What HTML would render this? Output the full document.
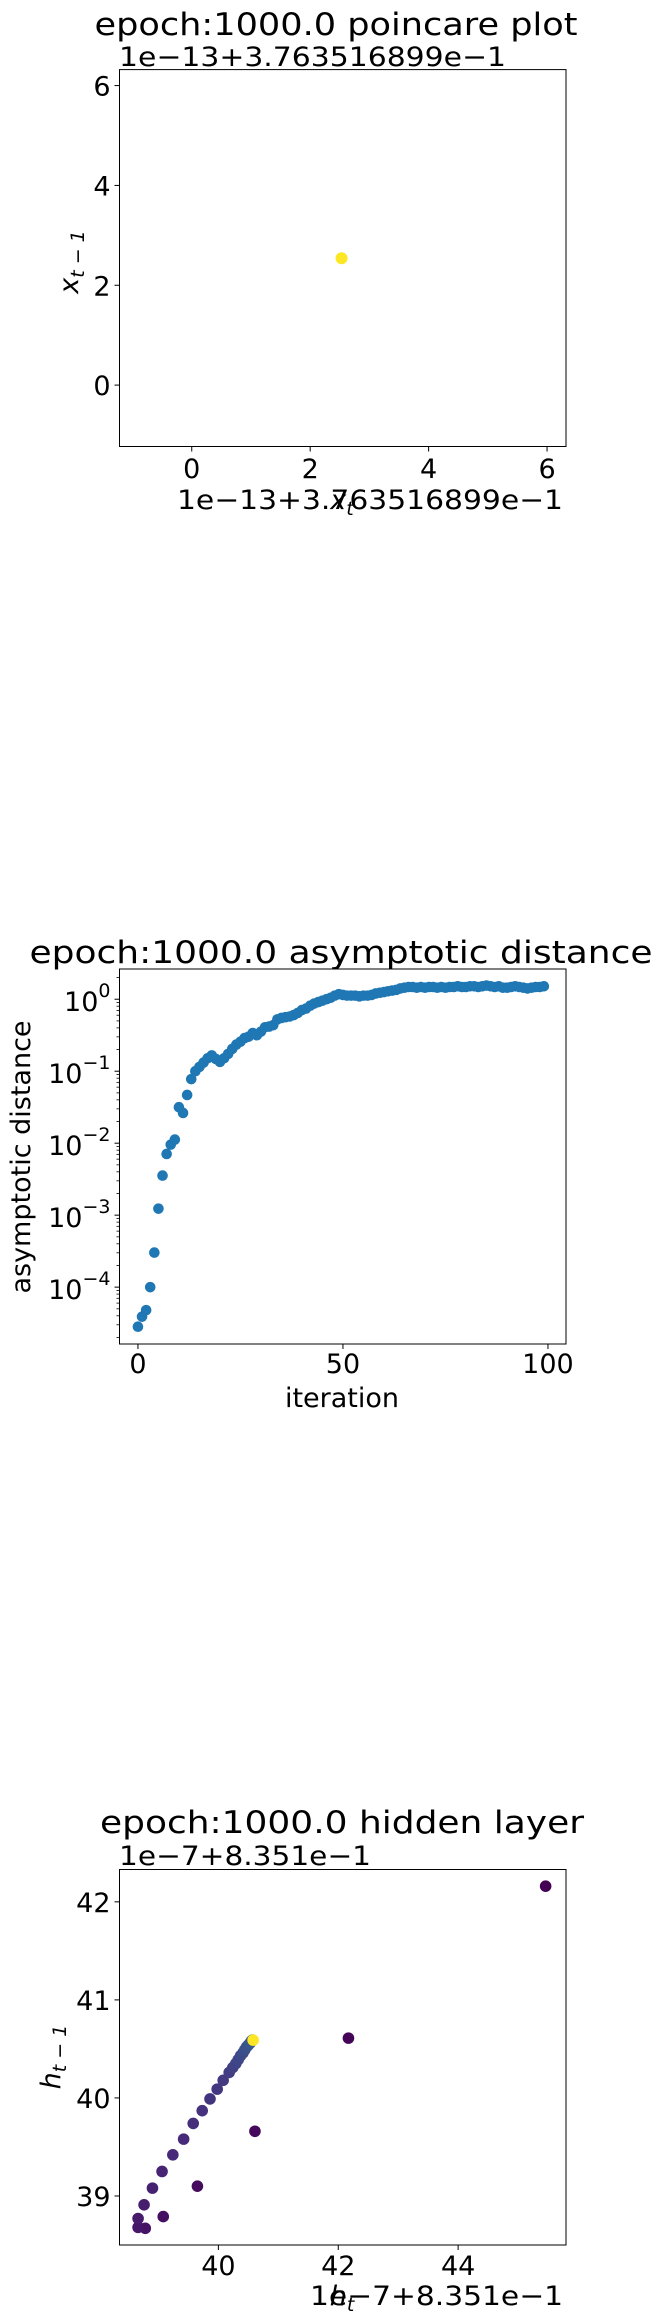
<!DOCTYPE html>
<html><head><meta charset="utf-8"><style>
html,body{margin:0;padding:0;background:#fff}
svg{display:block;font-family:"DejaVu Sans","Liberation Sans",sans-serif}
</style></head><body>
<svg id="chart" width="659" height="2321" viewBox="0 0 659 2321" xmlns="http://www.w3.org/2000/svg">
<rect width="659" height="2321" fill="#fff"/>
<g id="p1"></g>
<g id="p2"></g>
<g id="p3"></g>
</svg>
<script>
// ---- Plot 1 data (poincare, offset units 1e-13) ----
const p1X = [2.53];
const p1Y = [2.54];
const p1XTicks = [0, 2, 4, 6];
const p1YTicks = [0, 2, 4, 6];
// ---- Plot 2 data (asymptotic distance, log10 values) ----
const p2Log = [-4.55,-4.41,-4.32,-4.0,-3.52,-2.91,-2.45,-2.15,-2.02,-1.95,
 -1.5,-1.58,-1.33,-1.11,-1.0,-0.94,-0.88,-0.82,-0.78,-0.83,
 -0.87,-0.82,-0.76,-0.69,-0.63,-0.59,-0.54,-0.52,-0.47,-0.5,
 -0.45,-0.39,-0.38,-0.36,-0.28,-0.26,-0.25,-0.24,-0.22,-0.19,
 -0.15,-0.13,-0.09,-0.06,-0.04,-0.02,0.0,0.02,0.05,0.07,
 0.06,0.05,0.05,0.05,0.04,0.05,0.05,0.06,0.08,0.09,
 0.1,0.11,0.12,0.13,0.15,0.16,0.17,0.17,0.16,0.17,
 0.16,0.17,0.17,0.16,0.17,0.16,0.17,0.17,0.18,0.17,
 0.17,0.18,0.18,0.17,0.18,0.19,0.18,0.17,0.18,0.16,
 0.16,0.17,0.18,0.17,0.16,0.15,0.16,0.17,0.17,0.18];
const p2XTicks = [0, 50, 100];
const p2YTicks = [-4, -3, -2, -1, 0];
// ---- Plot 3 data (hidden layer, offset units 1e-7) ----
const p3X = [45.46,42.17,40.61,39.65,39.08,38.78,38.66,38.66,38.76,38.90,39.06,39.24,39.42,39.58,39.73,39.86,39.98,40.08,40.18,40.24,40.29,40.33,40.37,40.41,40.44,40.47,40.50,40.53,40.55,40.57,40.58];
const p3Y = [42.16,40.61,39.66,39.10,38.79,38.67,38.68,38.77,38.91,39.08,39.25,39.42,39.58,39.74,39.87,39.99,40.09,40.18,40.26,40.31,40.35,40.39,40.43,40.46,40.49,40.52,40.54,40.56,40.58,40.59,40.59];
const p3T = [0,1,2,3,4,5,6,7,8,9,10,11,12,13,14,15,16,17,18,19,20,21,22,23,24,25,26,27,28,29,99];
const p3XTicks = [40, 42, 44];
const p3YTicks = [39, 40, 41, 42];

const NS = "http://www.w3.org/2000/svg";
function mk(parent, tag, attrs, text) {
  const e = document.createElementNS(NS, tag);
  for (const k in attrs) e.setAttribute(k, attrs[k]);
  if (text !== undefined) e.textContent = text;
  parent.appendChild(e);
  return e;
}
const L = 119.5, R = 566;
function lin(d0, d1, r0, r1) { return v => r0 + (v - d0) * (r1 - r0) / (d1 - d0); }
function viridis(t) {
  const stops = [[68,1,84],[72,40,120],[62,73,137],[49,104,142],[38,130,142],[31,158,137],[53,183,121],[110,206,88],[181,222,43],[253,231,37]];
  const s = Math.max(0, Math.min(1, t)) * (stops.length - 1);
  const i = Math.min(stops.length - 2, Math.floor(s)), f = s - i;
  const c = stops[i].map((v, k) => Math.round(v + (stops[i + 1][k] - v) * f));
  return `rgb(${c[0]},${c[1]},${c[2]})`;
}
function frame(g, T, B) {
  const r = mk(g, "rect", {x: L, y: T, width: R - L, height: B - T, fill: "none", stroke: "#000", "stroke-width": 1});
  
  
}
function xtick(g, x, B, label, base) {
  mk(g, "line", {x1: x, y1: B, x2: x, y2: B + 5, stroke: "#000", "stroke-width": 1});
  const t = mk(g, "text", {x: x, y: base, "font-size": 27, "text-anchor": "middle"}, label);
  
  
}
function ytick(g, y, label) {
  mk(g, "line", {x1: L, y1: y, x2: L - 5, y2: y, stroke: "#000", "stroke-width": 1});
  const t = mk(g, "text", {x: L - 9, y: y + 10, "font-size": 27, "text-anchor": "end"}, label);
  
  
}
function text(g, name, attrs, s) {
  const t = mk(g, "text", attrs, s);
  
  
  return t;
}

// ===== Plot 1 =====
(function(){
  const g = document.getElementById("p1");
  const T = 69.6, B = 446.5;
  const xs = lin(-1.22, 6.32, L, R), ys = lin(-1.23, 6.32, B, T);
  text(g, "chart-title", {x: 336, y: 35, "font-size": 31, "text-anchor": "middle", textLength: 483, lengthAdjust: "spacingAndGlyphs"}, "epoch:1000.0 poincare plot");
  text(g, "y-offset-text", {x: 119, y: 66, "font-size": 27, textLength: 387, lengthAdjust: "spacingAndGlyphs"}, "1e\u221213+3.763516899e\u22121");
  frame(g, T, B);
  p1XTicks.forEach(v => xtick(g, xs(v), B, String(v), 478));
  p1YTicks.forEach(v => ytick(g, ys(v), String(v)));
  p1X.forEach((v, i) => {
    const c = mk(g, "circle", {cx: xs(v), cy: ys(p1Y[i]), r: 6, fill: "#fde725"});
    
    
  });
  text(g, "x-offset-text", {x: 177, y: 509, "font-size": 27, textLength: 386, lengthAdjust: "spacingAndGlyphs"}, "1e\u221213+3.763516899e\u22121");
  const xl = text(g, "x-axis-title", {x: 342, y: 509, "font-size": 27, "text-anchor": "middle", "font-style": "italic"}, "x");
  mk(xl, "tspan", {dy: 6, "font-size": 19}, "t");
  const yl = text(g, "y-axis-title", {x: 0, y: 0, "font-size": 27, "text-anchor": "middle", "font-style": "italic", transform: "translate(78,262) rotate(-90)"}, "x");
  mk(yl, "tspan", {dy: 6, "font-size": 19}, "t \u2212 1");
})();

// ===== Plot 2 =====
(function(){
  const g = document.getElementById("p2");
  const T = 969, B = 1344;
  const xs = lin(-4.5, 104.4, L, R), ys = lin(-4.79, 0.42, B, T);
  text(g, "chart-title", {x: 341, y: 963, "font-size": 31, "text-anchor": "middle", textLength: 623, lengthAdjust: "spacingAndGlyphs"}, "epoch:1000.0 asymptotic distance");
  frame(g, T, B);
  for (let d = -5; d <= 0; d++) {
    for (let m = 2; m <= 9; m++) {
      const lv = d + Math.log10(m);
      if (lv < -4.79 || lv > 0.42) continue;
      mk(g, "line", {x1: L, y1: ys(lv), x2: L - 3, y2: ys(lv), stroke: "#000", "stroke-width": 0.8});
    }
  }
  p2XTicks.forEach(v => xtick(g, xs(v), B, String(v), 1373));
  p2YTicks.forEach(v => {
    const y = ys(v);
    mk(g, "line", {x1: L, y1: y, x2: L - 5, y2: y, stroke: "#000", "stroke-width": 1});
    const t = mk(g, "text", {x: L - 9, y: y + 12, "font-size": 27, "text-anchor": "end"});
    
    
    mk(t, "tspan", {}, "10");
    mk(t, "tspan", {dy: -14, "font-size": 19}, v === 0 ? "0" : "\u2212" + (-v));
  });
  p2Log.forEach((v, i) => {
    const c = mk(g, "circle", {cx: xs(i), cy: ys(v), r: 5.3, fill: "#1f77b4"});
    
    
  });
  text(g, "x-axis-title", {x: 342, y: 1407, "font-size": 27, "text-anchor": "middle"}, "iteration");
  text(g, "y-axis-title", {x: 0, y: 0, "font-size": 27, "text-anchor": "middle", transform: "translate(30,1157) rotate(-90)"}, "asymptotic distance");
})();

// ===== Plot 3 =====
(function(){
  const g = document.getElementById("p3");
  const T = 1869.5, B = 2245;
  const xs = lin(38.35, 45.8, L, R), ys = lin(38.5, 42.33, B, T);
  text(g, "chart-title", {x: 342, y: 1833, "font-size": 31, "text-anchor": "middle", textLength: 484, lengthAdjust: "spacingAndGlyphs"}, "epoch:1000.0 hidden layer");
  text(g, "y-offset-text", {x: 119, y: 1865, "font-size": 27, textLength: 252, lengthAdjust: "spacingAndGlyphs"}, "1e\u22127+8.351e\u22121");
  frame(g, T, B);
  p3XTicks.forEach(v => xtick(g, xs(v), B, String(v), 2275));
  p3YTicks.forEach(v => ytick(g, ys(v), String(v)));
  p3X.forEach((v, i) => {
    const c = mk(g, "circle", {cx: xs(v), cy: ys(p3Y[i]), r: 5.8, fill: viridis(p3T[i] / 99)});
    
    
  });
  text(g, "x-offset-text", {x: 310, y: 2305, "font-size": 27, textLength: 253, lengthAdjust: "spacingAndGlyphs"}, "1e\u22127+8.351e\u22121");
  const xl = text(g, "x-axis-title", {x: 342, y: 2305, "font-size": 27, "text-anchor": "middle", "font-style": "italic"}, "h");
  mk(xl, "tspan", {dy: 6, "font-size": 19}, "t");
  const yl = text(g, "y-axis-title", {x: 0, y: 0, "font-size": 27, "text-anchor": "middle", "font-style": "italic", transform: "translate(60,2057) rotate(-90)"}, "h");
  mk(yl, "tspan", {dy: 6, "font-size": 19}, "t \u2212 1");
})();
</script>
</body></html>
